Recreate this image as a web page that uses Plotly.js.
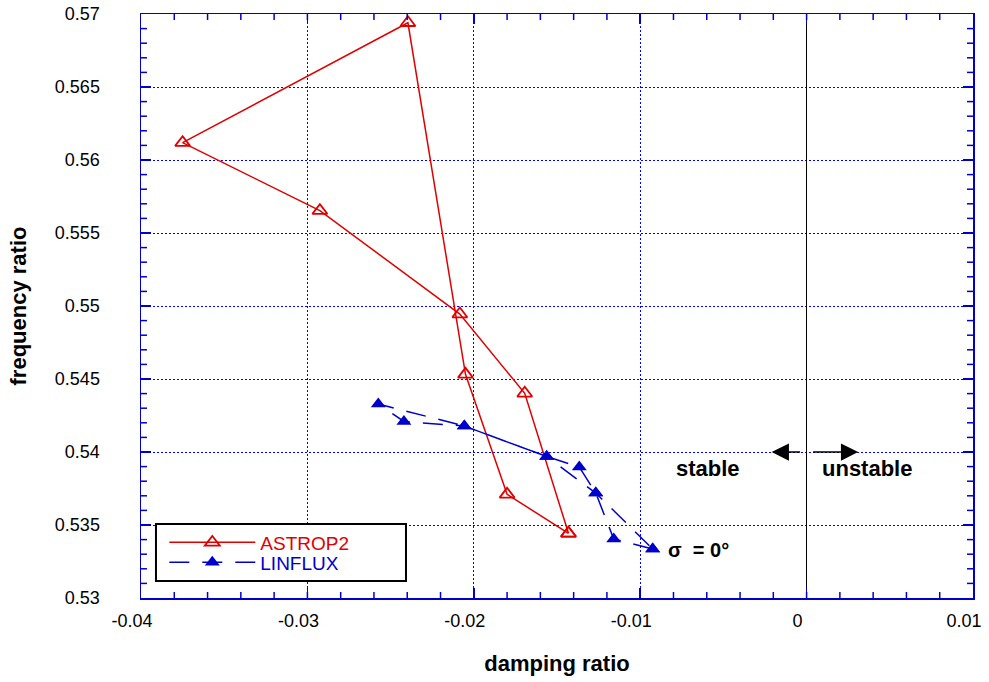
<!DOCTYPE html>
<html>
<head>
<meta charset="utf-8">
<script src="https://cdn.plot.ly/plotly-3.0.1.min.js"></script>
<style>html,body{margin:0;padding:0;background:#fff;}#chart{width:989px;height:682px;}</style>
</head>
<body>
<div id="chart"></div>
<script>
// ASTROP2 (closed loop over interblade phase angle)
const astropDamping = [-0.01431, -0.01800, -0.02050, -0.02396, -0.03750, -0.02925, -0.02084, -0.01694, -0.01431];
const astropFreq    = [0.53443, 0.53710, 0.54532, 0.56940, 0.56119, 0.55653, 0.54945, 0.54402, 0.53443];
// LINFLUX
const linfluxDamping = [-0.00925, -0.01159, -0.01267, -0.01366, -0.01562, -0.02057, -0.02420, -0.02574, -0.02057, -0.01562, -0.01267, -0.00925];
const linfluxFreq    = [0.53336, 0.53404, 0.53719, 0.53897, 0.53969, 0.54178, 0.54209, 0.54329, 0.54178, 0.53969, 0.53719, 0.53336];

// tick labels as printed on the chart
const xTickText = ['-0.04', '-0.03', '-0.02', '-0.01', '0', '0.01'];
const yTickText = ['0.53', '0.535', '0.54', '0.545', '0.55', '0.555', '0.56', '0.565', '0.57'];

// Plotly prints negatives with U+2212; map to the chart's plain hyphen
function aliasFor(labels) {
  const m = {};
  labels.forEach(function (t) { m[t.replace('-', '\u2212')] = t; });
  return m;
}

const red = '#e00000';
const gridBlue = '#0000ff';
const axisBlue = '#0000cc';

// minor tick marks on all four sides (axis styling, in axis units + pixel lengths)
function minorVals(start, end, step) {
  const out = [];
  const n = Math.round((end - start) / step);
  for (let i = 1; i < n; i++) out.push(+(start + i * step).toFixed(6));
  return out;
}
function minorTickShapes() {
  const s = [];
  const ln = {color: axisBlue, width: 1.5};
  minorVals(-0.04, 0.01, 0.002).forEach(function (v) {
    s.push({type: 'line', xref: 'x', yref: 'paper', ysizemode: 'pixel', yanchor: 0, x0: v, x1: v, y0: 0, y1: 6, line: ln, layer: 'above'});
    s.push({type: 'line', xref: 'x', yref: 'paper', ysizemode: 'pixel', yanchor: 1, x0: v, x1: v, y0: 0, y1: -6, line: ln, layer: 'above'});
  });
  minorVals(0.53, 0.57, 0.001).forEach(function (v) {
    s.push({type: 'line', xref: 'paper', yref: 'y', xsizemode: 'pixel', xanchor: 0, x0: 0, x1: 6, y0: v, y1: v, line: ln, layer: 'above'});
    s.push({type: 'line', xref: 'paper', yref: 'y', xsizemode: 'pixel', xanchor: 1, x0: 0, x1: -6, y0: v, y1: v, line: ln, layer: 'above'});
  });
  return s;
}

const traces = [
  {
    x: astropDamping, y: astropFreq, name: '<span style="color:' + red + '">ASTROP2</span>',
    type: 'scatter', mode: 'lines+markers', legend: 'legend',
    line: {color: red, width: 1.5},
    marker: {symbol: 'triangle-up-open', size: 13, color: red, line: {width: 1.8, color: red}}
  },
  {
    x: linfluxDamping, y: linfluxFreq, name: '<span style="color:' + axisBlue + '">LINFLUX</span>',
    type: 'scatter', mode: 'lines+markers', legend: 'legend2',
    line: {color: axisBlue, width: 1.5, dash: '20px,13px'},
    marker: {symbol: 'triangle-up', size: 13, color: axisBlue}
  }
];

const axisCommon = {
  showline: true, linecolor: axisBlue, linewidth: 1.5, mirror: 'allticks',
  ticks: 'inside', tickcolor: axisBlue, ticklen: 10, tickwidth: 1.5,
  showgrid: true, gridcolor: gridBlue, griddash: '2px,2px', gridwidth: 1,
  tickfont: {family: 'Liberation Sans, Arial, sans-serif', size: 18, color: '#000'},
  tickmode: 'linear', layer: 'above traces'
};

const fontTitle = {family: 'Liberation Sans, Arial, sans-serif', size: 22, color: '#000'};
const legendCommon = {
  x: 0.028, xanchor: 'left', yanchor: 'middle',
  bgcolor: 'rgba(0,0,0,0)', borderwidth: 0,
  font: {family: 'Liberation Sans, Arial, sans-serif', size: 19},
  itemwidth: 86
};

const layout = {
  width: 989, height: 682,
  margin: {l: 141, r: 16, t: 14, b: 84},
  paper_bgcolor: '#fff', plot_bgcolor: '#fff',
  showlegend: true,
  legend: Object.assign({}, legendCommon, {y: 0.0950}),
  legend2: Object.assign({}, legendCommon, {y: 0.0608}),
  shapes: [
    {type: 'rect', xref: 'paper', yref: 'paper', x0: 0.018, x1: 0.3185, y0: 0.0291, y1: 0.1267,
     line: {color: '#000', width: 2}, fillcolor: '#fff', layer: 'above'}
  ].concat(minorTickShapes()),
  xaxis: Object.assign({}, axisCommon, {
    range: [-0.04, 0.01], tick0: -0.04, dtick: 0.01, labelalias: aliasFor(xTickText),
    zeroline: true, zerolinecolor: '#000', zerolinewidth: 1,
    ticklabelstandoff: 6, ticklabelshift: -9, ticklabeloverflow: 'allow',
    title: {text: '<b>damping ratio</b>', font: fontTitle, standoff: 25}
  }),
  yaxis: Object.assign({}, axisCommon, {
    range: [0.53, 0.57], tick0: 0.53, dtick: 0.005, labelalias: aliasFor(yTickText),
    zeroline: false,
    ticklabelstandoff: 36, ticklabeloverflow: 'allow',
    title: {text: '<b>frequency ratio</b>', font: fontTitle, standoff: 22}
  }),
  annotations: [
    {x: -0.0059, y: 0.5389, xref: 'x', yref: 'y', text: '<b>stable</b>', showarrow: false,
     font: {family: 'Liberation Sans, Arial, sans-serif', size: 22, color: '#000'}},
    {x: 0.0036, y: 0.5389, xref: 'x', yref: 'y', text: '<b>unstable</b>', showarrow: false,
     font: {family: 'Liberation Sans, Arial, sans-serif', size: 22, color: '#000'}},
    {x: -0.0065, y: 0.5333, xref: 'x', yref: 'y', text: '<b>σ  = 0°</b>', showarrow: false,
     font: {family: 'Liberation Sans, Arial, sans-serif', size: 20, color: '#000'}},
    {x: -0.0021, y: 0.54, ax: -0.0003, ay: 0.54, xref: 'x', yref: 'y', axref: 'x', ayref: 'y',
     text: '', showarrow: true, arrowhead: 2, arrowsize: 2.3, arrowwidth: 1.5, arrowcolor: '#000'},
    {x: 0.0031, y: 0.54, ax: 0.0003, ay: 0.54, xref: 'x', yref: 'y', axref: 'x', ayref: 'y',
     text: '', showarrow: true, arrowhead: 2, arrowsize: 2.3, arrowwidth: 1.5, arrowcolor: '#000'}
  ]
};

Plotly.newPlot('chart', traces, layout, {displayModeBar: false, staticPlot: true});
</script>
</body>
</html>
